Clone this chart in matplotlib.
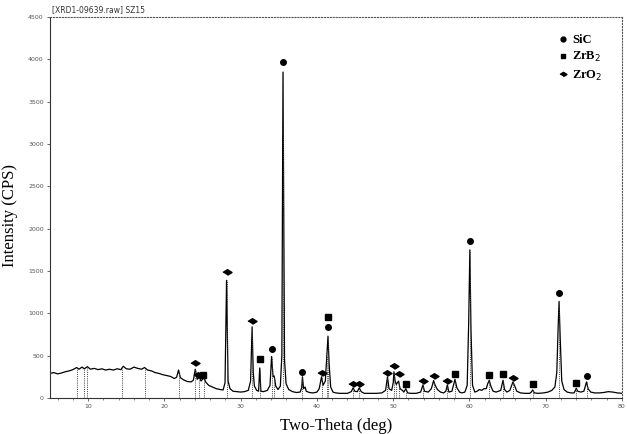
import numpy as np
import matplotlib
matplotlib.use('Agg')
import matplotlib.pyplot as plt
from matplotlib.lines import Line2D

# XRD pattern: two-theta (deg) and intensity (CPS)
two_theta = [
    5.0, 5.5, 6.0, 6.5, 7.0, 7.5, 8.0, 8.5, 8.8, 9.2, 9.5, 9.9, 10.3, 10.8,
    11.3, 11.8, 12.3, 12.8, 13.3, 13.8, 14.3, 14.6, 15.0, 15.5, 16.0, 16.5,
    17.0, 17.4, 17.8, 18.3, 18.8, 19.3, 19.8, 20.3, 20.8, 21.3, 21.6, 21.85,
    22.1, 22.5, 23.0, 23.5, 23.8, 24.05, 24.3, 24.6, 24.8, 25.2, 25.4, 25.8,
    26.3, 26.8, 27.3, 27.7, 27.95, 28.15, 28.35, 28.6, 29.0, 29.5, 30.0, 30.5,
    31.0, 31.3, 31.5, 31.65, 31.8, 32.1, 32.35, 32.5, 32.65, 33.0, 33.5, 33.85,
    34.05, 34.25, 34.4, 34.6, 34.9, 35.2, 35.4, 35.55, 35.75, 35.95, 36.3,
    36.8, 37.3, 37.8, 38.0, 38.1, 38.25, 38.45, 38.6, 39.0, 39.5, 40.0, 40.3,
    40.6, 40.8, 41.1, 41.3, 41.45, 41.6, 41.8, 42.1, 42.5, 43.0, 43.5, 44.0,
    44.5, 44.75, 44.95, 45.3, 45.55, 45.8, 46.2, 47.0, 47.8, 48.5, 49.0, 49.25,
    49.45, 49.8, 50.0, 50.1, 50.25, 50.4, 50.7, 50.9, 51.2, 51.4, 51.65, 51.9,
    52.3, 53.0, 53.6, 53.9, 54.1, 54.6, 55.0, 55.3, 55.5, 55.8, 56.2, 56.6,
    56.9, 57.1, 57.3, 57.7, 58.1, 58.35, 58.7, 59.0, 59.4, 59.7, 59.9, 60.05,
    60.2, 60.4, 60.7, 61.0, 61.3, 61.6, 61.9, 62.2, 62.4, 62.6, 62.8, 63.1,
    63.5, 64.1, 64.4, 64.6, 64.9, 65.3, 65.7, 65.9, 66.2, 66.7, 67.3, 67.9,
    68.1, 68.3, 68.5, 69.0, 69.7, 70.3, 70.8, 71.2, 71.45, 71.65, 71.75, 71.9,
    72.1, 72.4, 72.8, 73.3, 73.7, 73.9, 74.0, 74.2, 74.6, 75.0, 75.35, 75.55,
    75.9, 76.4, 77.0, 77.6, 78.2, 78.8, 79.4, 80.0,
]
counts = [
    290, 300, 285, 295, 310, 320, 335, 360, 340, 365, 345, 370, 340, 350,
    335, 345, 330, 340, 330, 345, 335, 375, 345, 340, 365, 350,
    340, 360, 330, 320, 300, 290, 275, 265, 255, 230, 245, 330,
    240, 215, 195, 190, 210, 340, 220, 250, 200, 240, 190, 150,
    130, 110, 100, 95, 180, 1390, 200, 110, 80, 75, 70, 75,
    90, 200, 840, 300, 140, 90, 80, 355, 80, 75, 90, 150,
    490, 250, 260, 140, 100, 140, 500, 3850, 450, 170, 100,
    75, 65, 70, 120, 250, 110, 130, 80, 65, 60, 70, 110,
    250, 150, 200, 500, 730, 400, 130, 70, 60, 55, 55, 55,
    75, 120, 80, 75, 120, 75, 55, 55, 55, 60, 90, 250,
    110, 90, 180, 310, 200, 160, 200, 110, 90, 70, 110, 60,
    55, 55, 70, 155, 80, 70, 110, 205, 150, 100, 70, 60,
    80, 155, 70, 80, 220, 120, 70, 60, 70, 150, 900, 1750,
    800, 150, 70, 80, 100, 90, 110, 110, 170, 210, 140, 80,
    70, 90, 210, 100, 70, 90, 190, 150, 80, 60, 55, 55,
    70, 95, 60, 55, 60, 70, 90, 130, 300, 900, 1140, 700,
    200, 100, 70, 60, 60, 90, 115, 80, 70, 80, 190, 110,
    70, 60, 60, 65, 75, 70, 60, 55,
]

# reference stick positions (dotted drops under the peaks)
sticks = [8.5, 9.4, 9.9, 14.5, 17.4, 21.85, 24.05, 24.6, 25.2, 28.15, 31.5,
          32.5, 34.05, 34.4, 35.55, 38.1, 40.6, 41.3, 41.45, 44.75, 45.55,
          49.25, 50.1, 50.4, 50.7, 51.65, 53.9, 55.3, 57.1, 58.1, 60.05,
          62.6, 64.4, 65.7, 68.3, 71.75, 74.0, 75.35]

# phase markers
sic_x = [34.05, 35.55, 38.1, 41.45, 60.05, 71.75, 75.35]
sic_y = [580, 3970, 305, 840, 1855, 1245, 265]
zrb2_x = [25.1, 32.5, 41.45, 51.65, 58.1, 62.6, 64.4, 68.3, 74.0]
zrb2_y = [270, 460, 960, 165, 280, 270, 280, 165, 175]
zro2_x = [24.0, 24.45, 28.15, 31.5, 40.6, 44.75, 45.55, 49.25, 50.1, 50.7,
          53.9, 55.3, 57.1, 65.7]
zro2_y = [410, 270, 1490, 915, 295, 165, 165, 295, 380, 280, 205, 260, 200, 240]

x_ticks = [10, 20, 30, 40, 50, 60, 70, 80]
y_ticks = [0, 500, 1000, 1500, 2000, 2500, 3000, 3500, 4000, 4500]

plt.rcParams['font.family'] = ['Liberation Serif', 'DejaVu Serif']

fig = plt.figure(figsize=(6.27, 4.34), dpi=100)
ax = fig.add_axes([50 / 627, 36 / 434, 572 / 627, 381 / 434])

ax.plot(two_theta, counts, color='black', lw=0.9)
stick_top = np.interp(sticks, two_theta, counts)
ax.vlines(sticks, 0, stick_top, colors='#444444', linestyles=(0, (1, 1.2)), lw=0.7)

diamond = [(-1.6, 0), (0, 1), (1.6, 0), (0, -1)]
ax.plot(sic_x, sic_y, 'o', color='black', ms=4, ls='none')
ax.plot(zrb2_x, zrb2_y, 's', color='black', ms=4.5, ls='none')
ax.plot(zro2_x, zro2_y, marker=diamond, color='black', ms=6.5, ls='none')

handles = [
    Line2D([], [], marker='o', color='black', ms=3.5, ls='none'),
    Line2D([], [], marker='s', color='black', ms=3.5, ls='none'),
    Line2D([], [], marker=diamond, color='black', ms=5, ls='none'),
]
ax.legend(handles, ['SiC', 'ZrB$_2$', 'ZrO$_2$'], loc='upper right',
          bbox_to_anchor=(0.985, 0.985), frameon=False, handlelength=0.6,
          handletextpad=0.4, labelspacing=0.35,
          prop={'family': 'Liberation Serif', 'weight': 'bold', 'size': 9})

ax.set_xlim(5, 80)
ax.set_ylim(0, 4500)
ax.set_xticks(x_ticks)
ax.set_yticks(y_ticks)
ax.set_xticks(np.arange(6, 80, 2), minor=True)
ax.tick_params(axis='both', labelsize=4.5, colors='#555555', length=2.5, width=0.6, pad=2)
ax.tick_params(axis='x', which='minor', length=1.5, width=0.5, colors='#555555')
for lab in ax.get_xticklabels() + ax.get_yticklabels():
    lab.set_family('DejaVu Sans')

for pos in ['top', 'right']:
    ax.spines[pos].set_linestyle(':')
    ax.spines[pos].set_color('#555555')
    ax.spines[pos].set_linewidth(0.8)
for pos in ['left', 'bottom']:
    ax.spines[pos].set_color('#333333')
    ax.spines[pos].set_linewidth(0.8)

ax.set_xlabel('Two-Theta (deg)', fontsize=12, labelpad=6)
ax.set_ylabel('Intensity (CPS)', fontsize=12)
ax.yaxis.set_label_coords(-32 / 572, 0.48)
fig.text(52 / 627, 1 - 10 / 434, '[XRD1-09639.raw] SZ15', fontsize=5.5,
         color='#333333', family='DejaVu Sans', va='center')

fig.savefig('out.png', dpi=100)
